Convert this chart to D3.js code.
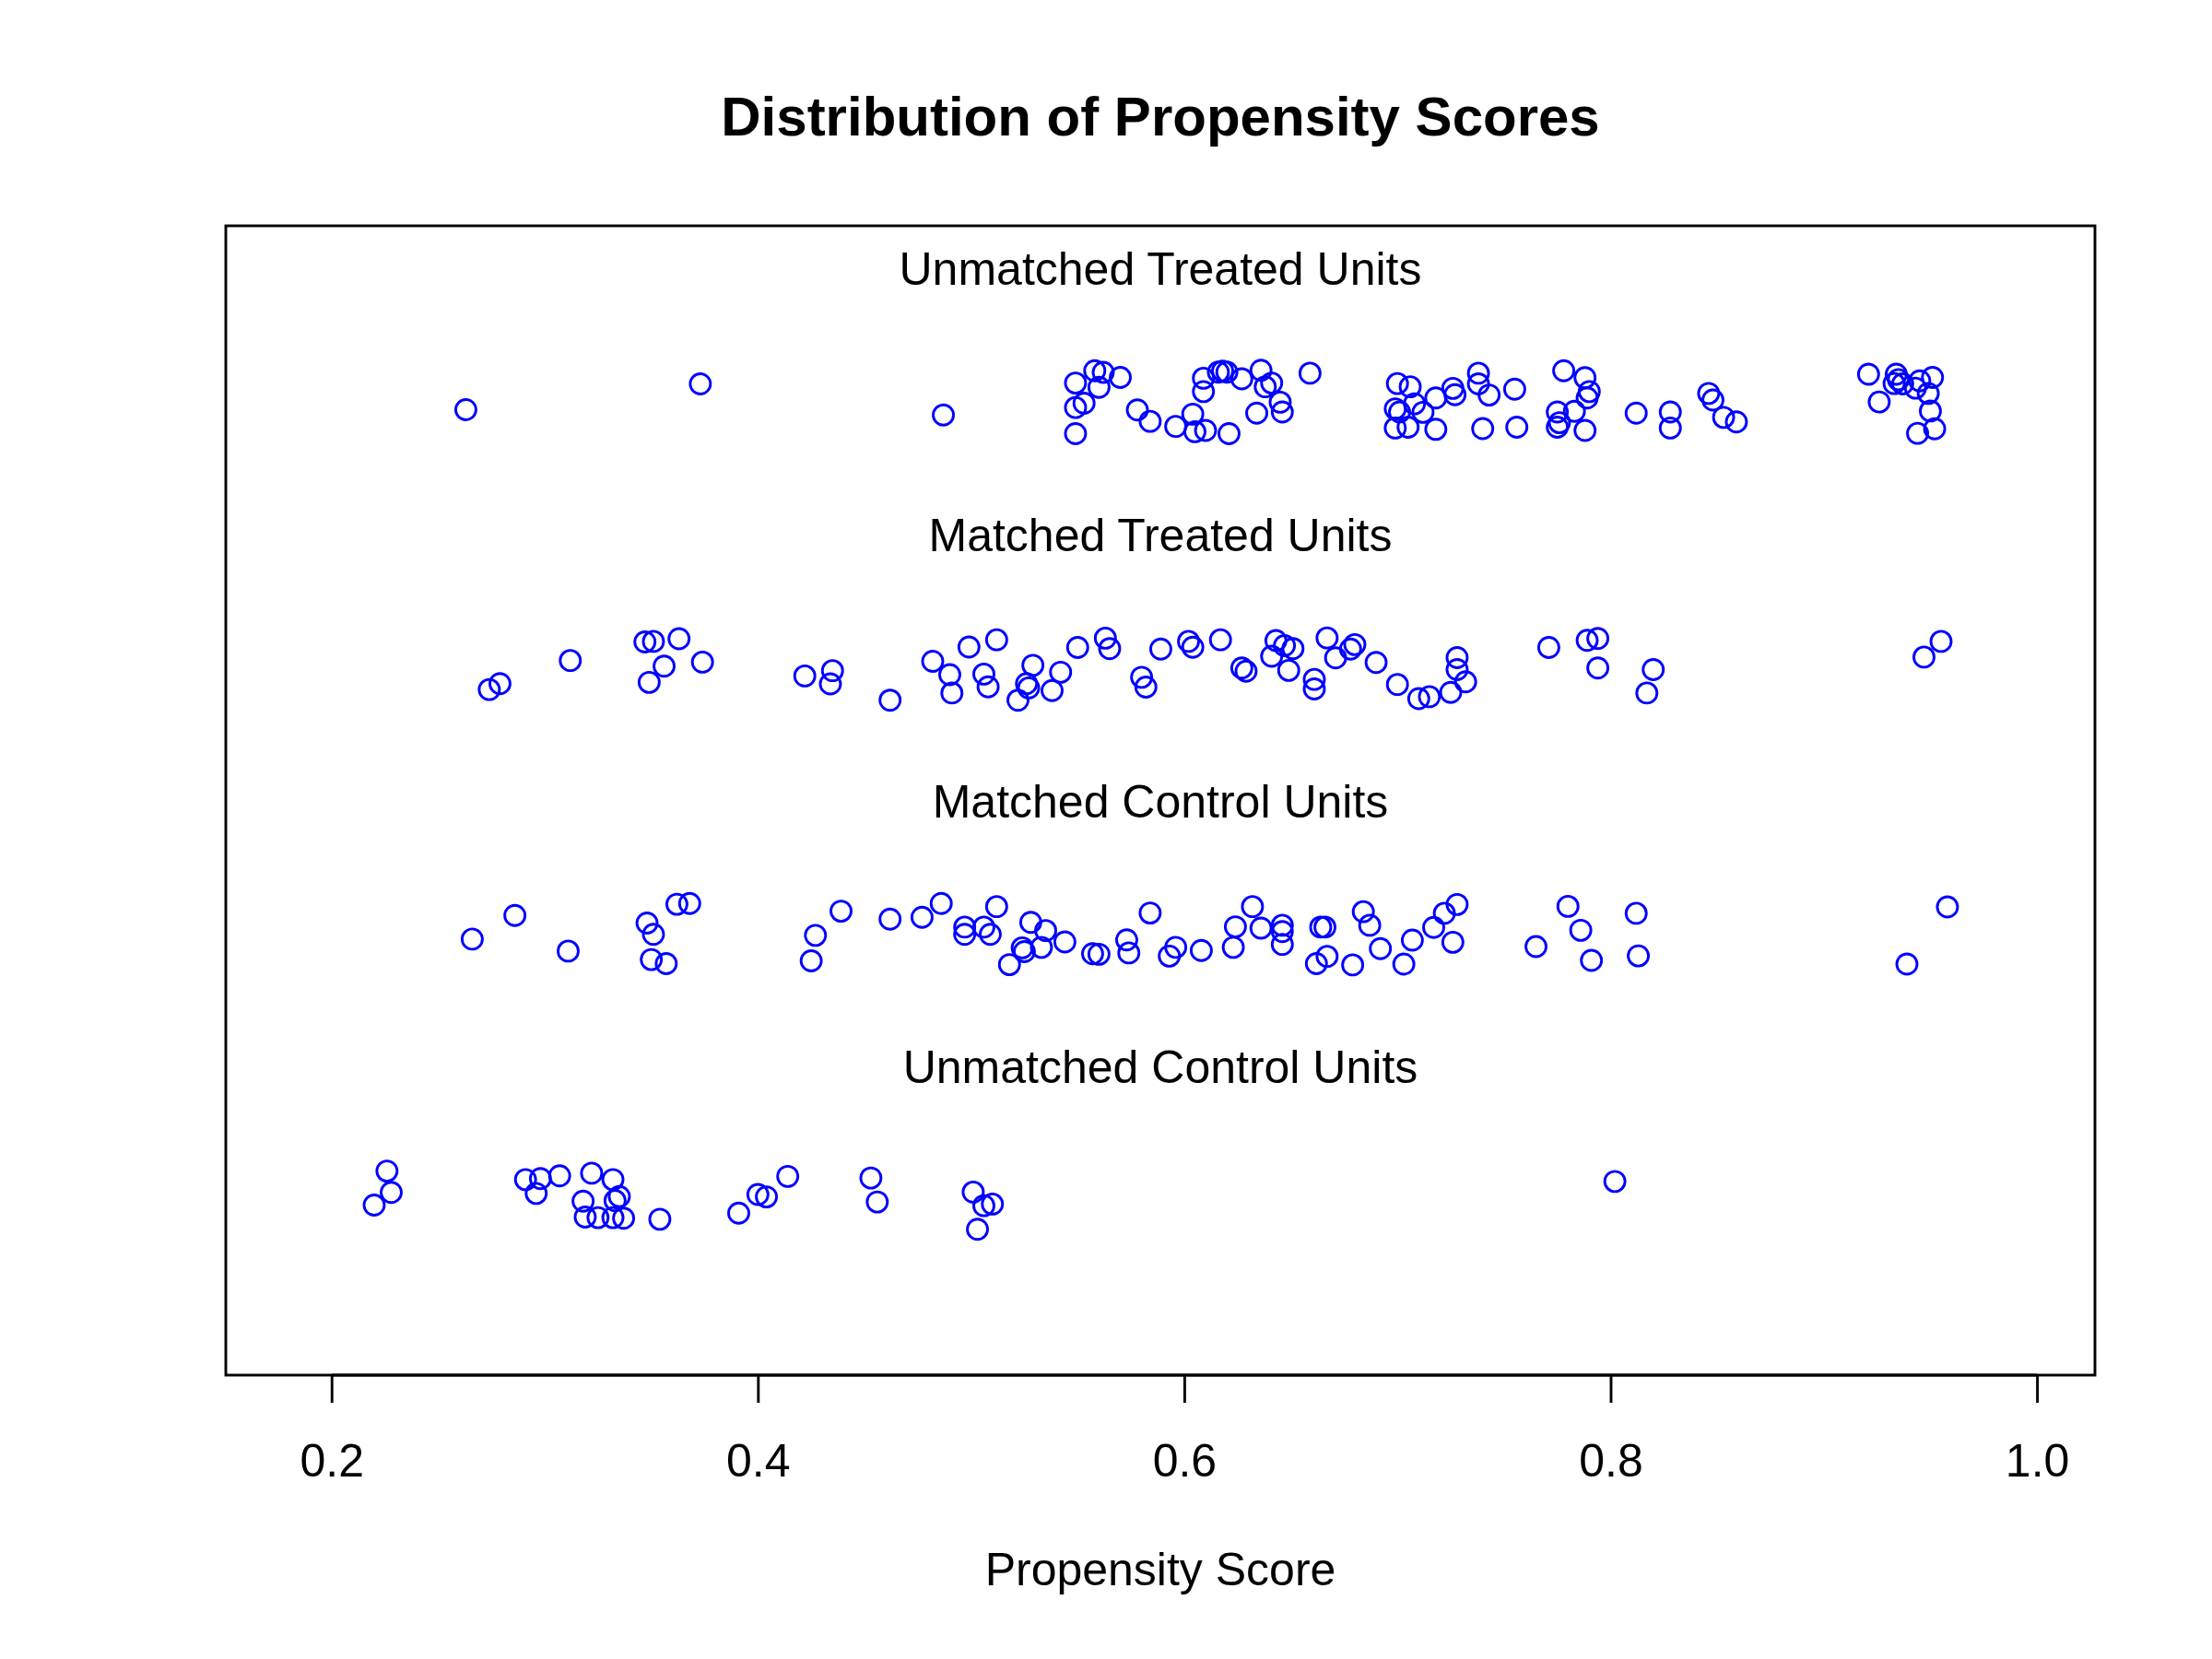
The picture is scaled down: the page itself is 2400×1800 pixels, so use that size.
<!DOCTYPE html>
<html>
<head>
<meta charset="utf-8">
<script src="https://cdn.jsdelivr.net/npm/d3@7"></script>
<style>
    body { margin: 0; background: #fff; }
    text { font-family: "Liberation Sans", Arial, Helvetica, sans-serif; }
</style>
</head>
<body>
<div id="viz"></div>
<script>
// Propensity scores and their jittered row positions
// (rows: 4 = unmatched treated, 3 = matched treated, 2 = matched control, 1 = unmatched control)
const unmatchedTreated = [
    [0.263, 3.969], [0.373, 4.066],
    [0.487, 3.949], [0.549, 4.069], [0.558, 4.115], [0.562, 4.109], [0.560, 4.053], [0.570, 4.090],
    [0.553, 3.993], [0.549, 3.977], [0.549, 3.879], [0.578, 3.968], [0.584, 3.925], [0.596, 3.906],
    [0.604, 3.952], [0.605, 3.886], [0.610, 3.891], [0.621, 3.879], [0.609, 4.037], [0.609, 4.087],
    [0.616, 4.110], [0.618, 4.114], [0.620, 4.110], [0.627, 4.085], [0.636, 4.117], [0.638, 4.055],
    [0.641, 4.069], [0.645, 3.997], [0.646, 3.960], [0.634, 3.956], [0.659, 4.106],
    [0.700, 4.067], [0.706, 4.055], [0.699, 3.972], [0.701, 3.960], [0.708, 3.991], [0.712, 3.959],
    [0.699, 3.900], [0.705, 3.903], [0.718, 4.013], [0.718, 3.895], [0.726, 4.049], [0.727, 4.025],
    [0.738, 4.106], [0.738, 4.066], [0.743, 4.024], [0.755, 4.046], [0.740, 3.898], [0.756, 3.903],
    [0.778, 4.115], [0.788, 4.089], [0.790, 4.037], [0.789, 4.013], [0.783, 3.963], [0.775, 3.960],
    [0.776, 3.920], [0.775, 3.903], [0.788, 3.891], [0.812, 3.956], [0.828, 3.960], [0.828, 3.900],
    [0.846, 4.030], [0.848, 4.005], [0.853, 3.940], [0.859, 3.923],
    [0.921, 4.102], [0.926, 3.998], [0.934, 4.102], [0.933, 4.067], [0.935, 4.082], [0.937, 4.066],
    [0.945, 4.077], [0.943, 4.050], [0.951, 4.090], [0.949, 4.030], [0.950, 3.964], [0.952, 3.897],
    [0.944, 3.880]
]

const matchedTreated = [
    [0.274, 2.917], [0.279, 2.939], [0.312, 3.026], [0.347, 3.096], [0.351, 3.098], [0.363, 3.108],
    [0.356, 3.005], [0.349, 2.944], [0.374, 3.020],
    [0.422, 2.968], [0.435, 2.988], [0.434, 2.938], [0.462, 2.877], [0.482, 3.023], [0.490, 2.973],
    [0.499, 3.077], [0.491, 2.904], [0.506, 2.975], [0.508, 2.927], [0.512, 3.104], [0.529, 3.008],
    [0.526, 2.939], [0.527, 2.923], [0.522, 2.877], [0.538, 2.913], [0.542, 2.982], [0.550, 3.075],
    [0.563, 3.110], [0.565, 3.071], [0.580, 2.963], [0.582, 2.926], [0.589, 3.069], [0.602, 3.098],
    [0.604, 3.076], [0.617, 3.104], [0.627, 2.998], [0.629, 2.986], [0.641, 3.042], [0.643, 3.101],
    [0.647, 3.082], [0.651, 3.071], [0.649, 2.989], [0.661, 2.955], [0.661, 2.919],
    [0.667, 3.111], [0.671, 3.036], [0.678, 3.069], [0.680, 3.086], [0.690, 3.019], [0.700, 2.936],
    [0.710, 2.883], [0.715, 2.890], [0.725, 2.906], [0.728, 3.037], [0.728, 2.992], [0.732, 2.946],
    [0.771, 3.075], [0.789, 3.102], [0.794, 3.109], [0.794, 2.998], [0.820, 2.992], [0.817, 2.904],
    [0.955, 3.098], [0.947, 3.039]
]

const matchedControl = [
    [0.266, 1.979], [0.286, 2.068], [0.311, 1.934], [0.348, 2.039], [0.351, 1.997], [0.350, 1.902],
    [0.357, 1.887], [0.362, 2.110], [0.368, 2.113],
    [0.427, 1.993], [0.425, 1.897], [0.439, 2.084], [0.462, 2.054], [0.477, 2.061], [0.486, 2.113],
    [0.497, 2.024], [0.497, 1.997], [0.506, 2.024], [0.509, 1.997], [0.512, 2.101], [0.518, 1.883],
    [0.524, 1.946], [0.525, 1.932], [0.528, 2.042], [0.535, 2.011], [0.533, 1.948], [0.544, 1.968],
    [0.557, 1.924], [0.560, 1.922], [0.573, 1.976], [0.574, 1.927], [0.584, 2.077], [0.596, 1.948],
    [0.593, 1.915], [0.608, 1.936], [0.623, 1.948], [0.624, 2.025], [0.632, 2.101], [0.636, 2.020],
    [0.646, 2.007], [0.646, 2.031], [0.646, 1.959], [0.662, 1.887],
    [0.664, 2.024], [0.666, 2.024], [0.667, 1.914],
    [0.679, 1.882], [0.684, 2.082], [0.687, 2.031], [0.692, 1.943], [0.703, 1.885], [0.707, 1.975],
    [0.717, 2.023], [0.722, 2.076], [0.728, 2.109], [0.726, 1.967], [0.765, 1.951], [0.780, 2.102],
    [0.786, 2.012], [0.791, 1.899], [0.812, 2.076], [0.813, 1.916],
    [0.958, 2.100], [0.939, 1.885]
]

const unmatchedControl = [
    [0.226, 1.107], [0.228, 1.027], [0.220, 0.979], [0.291, 1.075], [0.298, 1.079], [0.296, 1.023],
    [0.307, 1.089], [0.322, 1.099], [0.332, 1.075], [0.318, 0.994], [0.335, 1.011], [0.333, 0.996],
    [0.319, 0.934], [0.325, 0.932], [0.332, 0.932], [0.337, 0.930], [0.354, 0.926], [0.391, 0.949],
    [0.400, 1.019], [0.404, 1.010],
    [0.414, 1.087], [0.453, 1.081], [0.456, 0.991], [0.501, 1.028], [0.506, 0.977], [0.510, 0.983],
    [0.503, 0.888],
    [0.802, 1.068]
]

// Row labels and where they sit on the y axis
const groupLabels = ["Unmatched Treated Units", "Matched Treated Units", "Matched Control Units", "Unmatched Control Units"]
const labelRows = [4.5, 3.5, 2.5, 1.5]

// Axis ticks
const xTicks = [0.2, 0.4, 0.6, 0.8, 1.0]

// Axis ranges (R style, data range padded by 4%)
const xDomain = [0.1504, 1.0272]
const yDomain = [0.34, 4.66]

document.addEventListener("DOMContentLoaded", () => {

    const width = 2400
    const height = 1800

    // plot box, R default margins
    const left = 245
    const right = 2273
    const top = 245
    const bottom = 1492

    const svg = d3.select("#viz").append("svg")
        .attr("width", width)
        .attr("height", height)
        .style("display", "block")
        .style("background", "#fff")

    const x = d3.scaleLinear().domain(xDomain).range([left, right])
    const y = d3.scaleLinear().domain(yDomain).range([bottom, top])

    // ========================================
    // title
    svg.append("text")
        .text("Distribution of Propensity Scores")
        .attr("x", (left + right) / 2)
        .attr("y", 147)
        .attr("text-anchor", "middle")
        .attr("font-size", 60)
        .attr("font-weight", "bold")

    // points, one group per row
    const groups = [unmatchedTreated, matchedTreated, matchedControl, unmatchedControl]
    groups.forEach(g => {
        svg.append("g")
            .selectAll("circle")
            .data(g)
            .join("circle")
            .attr("cx", d => x(d[0]))
            .attr("cy", d => y(d[1]))
            .attr("r", 11)
            .attr("fill", "none")
            .attr("stroke", "#0000ff")
            .attr("stroke-width", 2.9)
    })

    // row labels
    svg.append("g")
        .selectAll("text")
        .data(groupLabels)
        .join("text")
        .text(d => d)
        .attr("x", (left + right) / 2)
        .attr("y", (d, i) => y(labelRows[i]))
        .attr("dy", "0.36em")
        .attr("text-anchor", "middle")
        .attr("font-size", 50)

    // x axis
    const xAxis = d3.axisBottom(x)
        .tickValues(xTicks)
        .tickFormat(d3.format(".1f"))
        .tickSize(30)
        .tickPadding(44)

    const axisG = svg.append("g")
        .attr("transform", `translate(0,${bottom})`)
        .call(xAxis)

    axisG.select(".domain").remove()
    axisG.selectAll(".tick line")
        .attr("stroke", "#000")
        .attr("stroke-width", 2.9)
    axisG.selectAll(".tick text")
        .attr("font-size", 50)
        .attr("font-family", "Liberation Sans, Arial, sans-serif")
        .attr("fill", "#000")

    // axis line under the ticks
    svg.append("line")
        .attr("x1", x(xTicks[0]))
        .attr("x2", x(xTicks[xTicks.length - 1]))
        .attr("y1", bottom)
        .attr("y2", bottom)
        .attr("stroke", "#000")
        .attr("stroke-width", 2.9)

    svg.append("text")
        .text("Propensity Score")
        .attr("x", (left + right) / 2)
        .attr("y", 1720)
        .attr("text-anchor", "middle")
        .attr("font-size", 50)

    // box around the plot
    svg.append("rect")
        .attr("x", left)
        .attr("y", top)
        .attr("width", right - left)
        .attr("height", bottom - top)
        .attr("fill", "none")
        .attr("stroke", "#000")
        .attr("stroke-width", 2.9)

    // ========================================

})
</script>
</body>
</html>
